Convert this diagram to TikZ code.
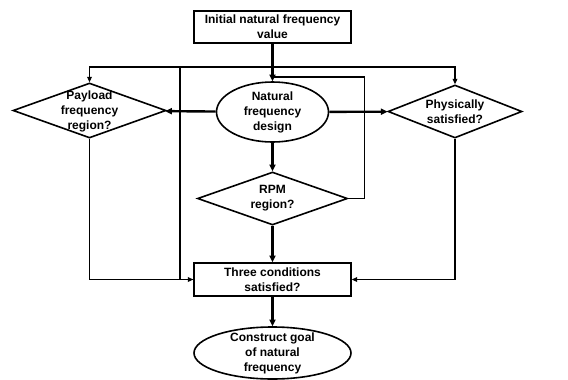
\documentclass[tikz,border=0pt]{standalone}
\usepackage{fontspec}
\setmainfont{Liberation Sans}
\usepackage{tikz}
\usetikzlibrary{shapes.geometric, arrows.meta, positioning}
\newcommand{\flowfont}{\fontsize{9}{11.25}\selectfont\bfseries}
\tikzset{
  procbox/.style={rectangle, draw=black, fill=white, align=center,
    font=\flowfont, line width=1.2pt, inner sep=0pt},
  goalnode/.style={ellipse, draw=black, fill=white, align=center,
    font=\flowfont, line width=1.2pt, inner sep=-2pt},
  decision/.style={diamond, draw=black, fill=white, line width=1.2pt, inner sep=0pt},
  decisiontext/.style={align=center, font=\flowfont, inner sep=0pt},
  arrow/.style={-{Triangle[length=5pt,width=4.5pt]}, line width=1.8pt, color=black},
  thinarrow/.style={-{Triangle[length=4pt,width=3.5pt]}, line width=1.1pt, color=black},
  line/.style={line width=1.1pt, color=black}
}
\begin{document}
\begin{tikzpicture}[x=0.75pt, y=-0.75pt]
  \useasboundingbox (0,0) rectangle (568,379);

  \node[procbox, minimum width=117.75pt, minimum height=24pt] (init) at (272.5,27) {Initial natural frequency\\value};
  \node[goalnode, minimum width=84pt, minimum height=45pt] (nfd) at (272.5,112) {Natural\\frequency\\design};

  \node[decision, minimum width=114.75pt, minimum height=41.25pt] (pay) at (89.5,110.5) {};
  \node[decisiontext] (paytxt) at (89.5,111.5) {Payload\\frequency\\region?};

  \node[decision, minimum width=100.5pt, minimum height=39.75pt] (phys) at (455,111.5) {};
  \node[decisiontext] (phystxt) at (455,112) {Physically\\satisfied?};

  \node[decision, minimum width=112.5pt, minimum height=39.75pt] (rpm) at (272.5,198.5) {};
  \node[decisiontext] (rpmtxt) at (272.5,198.5) {RPM\\region?};

  \node[procbox, minimum width=117.75pt, minimum height=24.75pt] (three) at (272.5,279.5) {Three conditions\\satisfied?};
  \node[goalnode, minimum width=117.75pt, minimum height=39pt] (goal) at (272.5,353) {Construct goal\\of natural\\frequency};

  \coordinate (split) at (272.5,67);
  \coordinate (bypass) at (180,67);
  \coordinate (fb) at (272.5,77);

  % main flow
  \draw[arrow] (init) -- (nfd);
  \draw[arrow] (nfd) -- (pay);
  \draw[arrow] (nfd) -- (phys);
  \draw[arrow] (nfd) -- (rpm);
  \draw[arrow] (rpm) -- (three);
  \draw[arrow] (three) -- (goal);

  % side paths
  \draw[thinarrow] (split) -| (pay.north);
  \draw[thinarrow] (split) -| (phys.north);
  \draw[line] (bypass) |- (three.west);
  \draw[thinarrow] (pay.south) |- (three.west);
  \draw[thinarrow] (phys.south) |- (three.east);
  \draw[line] (rpm.east) -- ++(16,0) |- (fb);
\end{tikzpicture}
\end{document}
